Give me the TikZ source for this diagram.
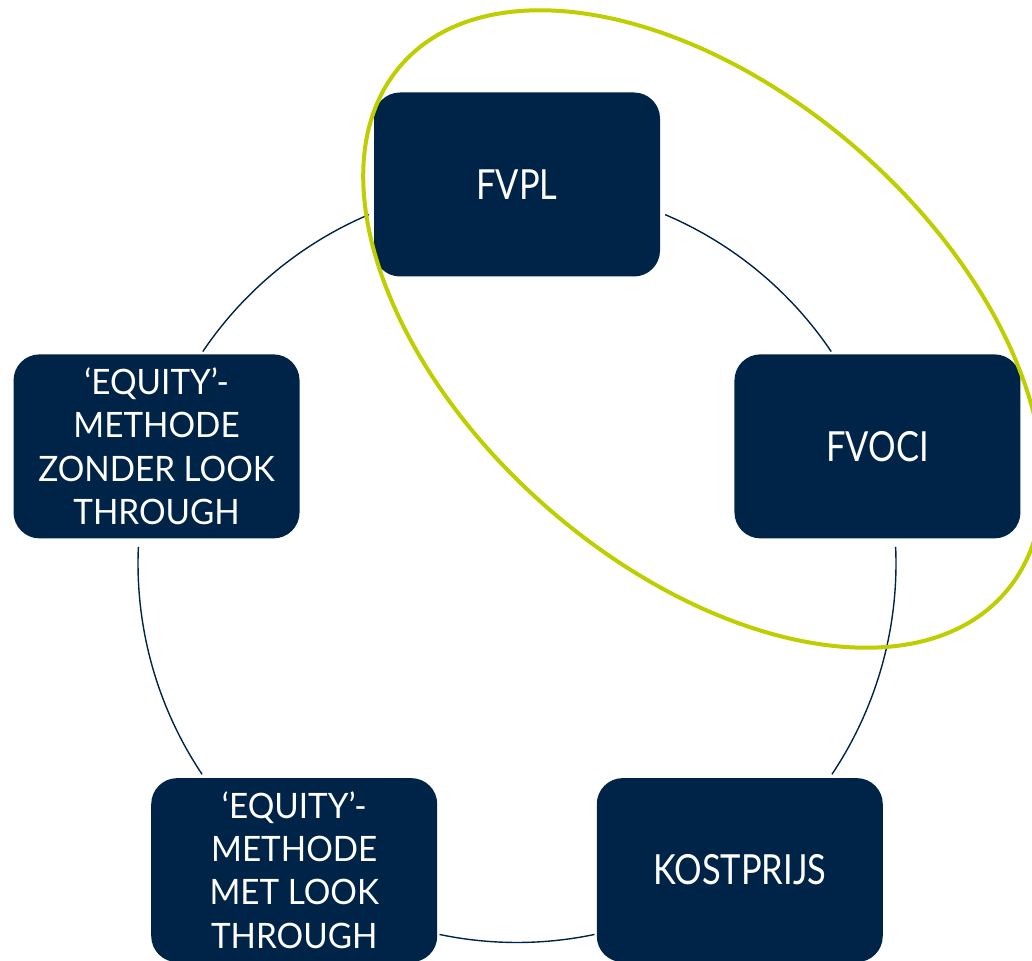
\documentclass[tikz,border=0pt]{standalone}
\usepackage{fontspec}
\setmainfont{Lato}[FakeStretch=0.83]
\newfontfamily\multifont{Lato}[FakeStretch=0.95]
\definecolor{navy}{RGB}{0,36,71}
\definecolor{lime}{RGB}{190,206,0}
\begin{document}
\begin{tikzpicture}[x=1pt,y=1pt,
  box/.style={fill=navy, rounded corners=26pt, minimum width=286pt, minimum height=184pt,
    inner sep=0pt, text=white, align=center, font=\fontsize{41.5}{52}\selectfont},
  multi/.style={font=\multifont\fontsize{35}{43.3}\selectfont},
  link/.style={draw=navy, line width=1.4pt},
  ring/.style={draw=lime, line width=4pt}]
\useasboundingbox (0,0) rectangle (1032,960);
\clip (0,0) rectangle (1032,960);
\coordinate (ctr) at (517,396.5);
\node[box] (fvpl) at ([shift={(90:379pt)}]ctr) {FVPL};
\node[box] (fvoci) at ([shift={(18:379pt)}]ctr) {FVOCI};
\node[box] (kost) at ([shift={(-54:379pt)}]ctr) {KOSTPRIJS};
\node[box, multi] (eqmet) at ([shift={(-126:379pt)}]ctr) {‘EQUITY’-\\METHODE\\MET LOOK\\THROUGH};
\node[box, multi] (eqzon) at ([shift={(162:379pt)}]ctr) {‘EQUITY’-\\METHODE\\ZONDER LOOK\\THROUGH};
\draw[link] ([shift={(67:379pt)}]ctr) arc[start angle=67, end angle=34, radius=379pt];
\draw[link] ([shift={(2.5:379pt)}]ctr) arc[start angle=2.5, end angle=-33.8, radius=379pt];
\draw[link] ([shift={(-78.2:379pt)}]ctr) arc[start angle=-78.2, end angle=-101.8, radius=379pt];
\draw[link] ([shift={(-146.2:379pt)}]ctr) arc[start angle=-146.2, end angle=-182.5, radius=379pt];
\draw[link] ([shift={(146:379pt)}]ctr) arc[start angle=146, end angle=113, radius=379pt];
\coordinate (elc) at (703,631);
\draw[ring, rotate around={-41.2:(elc)}] (elc) ellipse [x radius=401pt, y radius=237pt];
\end{tikzpicture}
\end{document}
